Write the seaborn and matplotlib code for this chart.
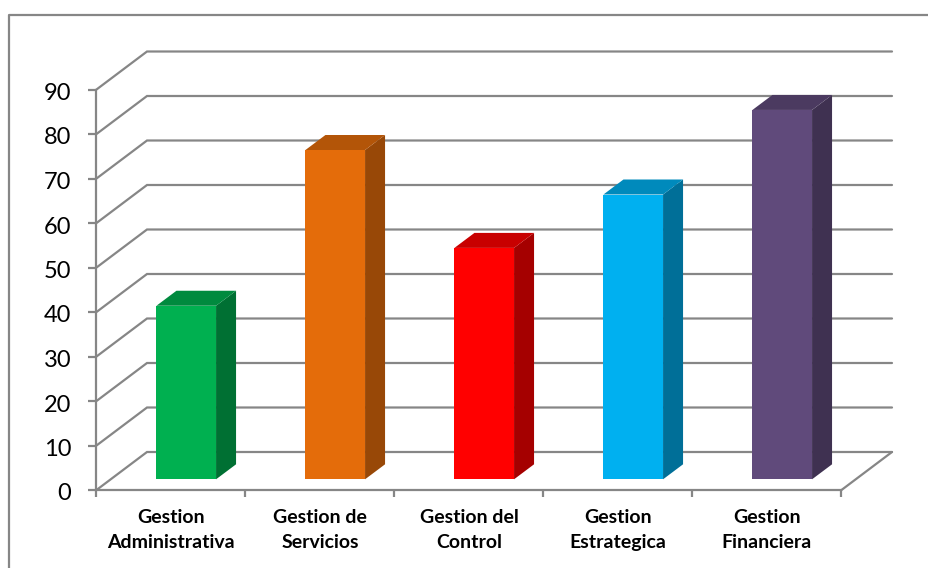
import matplotlib
matplotlib.use("Agg")
import matplotlib.pyplot as plt
from matplotlib.lines import Line2D
from matplotlib.patches import Polygon
from matplotlib.transforms import ScaledTranslation
import pandas as pd
import seaborn as sns

# Chart data
categories = ["Gestion\nAdministrativa", "Gestion de\nServicios", "Gestion del\nControl",
              "Gestion\nEstrategica", "Gestion\nFinanciera"]
values = [39, 74, 52, 64, 83]
front_colors = ["#00B050", "#E46C0A", "#FF0000", "#00B0F0", "#604A7B"]
top_colors = ["#008A3E", "#B35508", "#C80000", "#008ABC", "#4B3A60"]
side_colors = ["#007033", "#984807", "#A50000", "#006F98", "#3F3151"]
y_ticks = list(range(0, 100, 10))

W, H = 929, 568
GRID = "#868686"

sns.set_theme(style="white")
plt.rcParams["font.family"] = ["Lato", "DejaVu Sans"]

fig = plt.figure(figsize=(W / 100, H / 100), dpi=100)


def pixel_axes(left, right, top, bottom):
    return fig.add_axes([left / W, 1 - bottom / H, (right - left) / W, (bottom - top) / H])


# Outer frame: only the top and left edges are visible
fig.add_artist(Line2D([9 / W, 9 / W, 1], [0, 1 - 15 / H, 1 - 15 / H], color=GRID, lw=1.6))

# Front plane of the chart carries the axes and labels
ax = pixel_axes(96.5, 841.5, 89.5, 490)
ax.set_xlim(-0.5, 4.5)
ax.set_ylim(0, 90)
ax.patch.set_alpha(0)

# Receding walls: floor, back gridlines and their diagonals
wall_dx = 50.5 / 149
wall_dy = 38 / (400.5 / 90)
for v in y_ticks:
    ax.plot([-0.5, -0.5 + wall_dx, 4.5 + wall_dx], [v, v + wall_dy, v + wall_dy],
            color=GRID, lw=1.6, clip_on=False, solid_joinstyle="miter", zorder=1)
ax.plot([4.5, 4.5 + wall_dx], [0, wall_dy], color=GRID, lw=1.6, clip_on=False, zorder=1)

ax.set_yticks(y_ticks)
ax.set_xticks(range(len(categories)))
ax.set_xticklabels(categories, fontweight="bold", fontsize=14, color="black", linespacing=1.55)
ax.set_xticks([i - 0.5 for i in range(len(categories) + 1)], minor=True)
ax.tick_params(axis="y", left=True, length=6, width=1.6, color=GRID, labelsize=17,
               labelcolor="black", pad=12)
ax.tick_params(axis="x", which="major", bottom=False, pad=8)
ax.tick_params(axis="x", which="minor", bottom=True, length=5, width=1.6, color=GRID)
for name in ("top", "right"):
    ax.spines[name].set_visible(False)
for name in ("left", "bottom"):
    ax.spines[name].set_color(GRID)
    ax.spines[name].set_linewidth(1.6)
ax.grid(False)

# Nudge the value labels down so their digits centre on the ticks
label_shift = ScaledTranslation(0, -2 / 100, fig.dpi_scale_trans)
for label in ax.get_yticklabels():
    label.set_transform(label.get_transform() + label_shift)

# Bars sit slightly inside the floor, on their own shifted axes
bar_ax = pixel_axes(96.5 + 15.25, 841.5 + 15.25, 89.5 - 10.7, 490 - 10.7)
bar_ax.patch.set_alpha(0)
frame = pd.DataFrame({"area": categories, "value": values})
sns.barplot(data=frame, x="area", y="value", hue="area", palette=front_colors, width=0.4,
            saturation=1, legend=False, ax=bar_ax, zorder=3, linewidth=0, edgecolor="none")
bar_ax.set_xlim(-0.5, 4.5)
bar_ax.set_ylim(0, 90)
bar_ax.axis("off")

# Side and top faces give each bar its depth
depth_x = 20 / 149
depth_y = 15 / (400.5 / 90)
for patch, value, top_c, side_c in zip(bar_ax.patches, values, top_colors, side_colors):
    x0 = patch.get_x()
    x1 = x0 + patch.get_width()
    bar_ax.add_patch(Polygon([(x1, 0), (x1 + depth_x, depth_y), (x1 + depth_x, value + depth_y), (x1, value)],
                             closed=True, facecolor=side_c, edgecolor="none", clip_on=False, zorder=3))
    bar_ax.add_patch(Polygon([(x0, value), (x0 + depth_x, value + depth_y), (x1 + depth_x, value + depth_y), (x1, value)],
                             closed=True, facecolor=top_c, edgecolor="none", clip_on=False, zorder=3))

fig.savefig("out.png", dpi=100)
